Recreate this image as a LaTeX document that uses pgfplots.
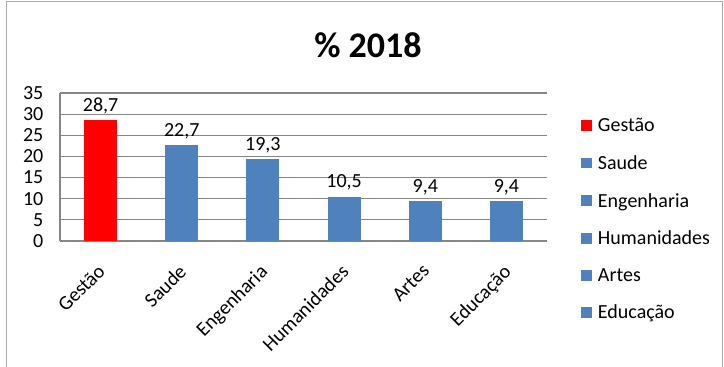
\documentclass[border=0pt]{standalone}
\usepackage{pgfplots}
\pgfplotsset{compat=1.18}
\usepackage{fontspec}
\setmainfont{Carlito}
\definecolor{xblue}{HTML}{4F81BD}
\definecolor{xred}{HTML}{FF0000}
\definecolor{xgrid}{HTML}{868686}
\begin{document}
\begin{tikzpicture}[x=0.75pt,y=0.75pt]
\clip (0,0) rectangle (724,367);
\useasboundingbox (0,0) rectangle (724,367);
\draw[color=xgrid!70] (6,-5) rectangle (722,366);
\node[font=\fontsize{27}{32}\selectfont\bfseries] at (368,322) {\% 2018};
\begin{axis}[
  at={(45pt,94.5pt)}, anchor=south west,
  scale only axis, width=365.25pt, height=111pt,
  ybar, /pgf/bar shift=0pt, bar width=24.75pt,
  xmin=-0.5, xmax=5.5, ymin=0, ymax=35,
  ytick={0,5,...,35},
  xtick={0,1,2,3,4,5},
  xticklabels={Gestão,Saude,Engenharia,Humanidades,Artes,Educação},
  xticklabel style={rotate=45, anchor=north east, inner sep=1pt, xshift=-12.8pt, yshift=-8.5pt},
  yticklabel style={xshift=-9pt},
  major tick length=0pt,
  ymajorgrids, grid style={color=xgrid, line width=0.8pt},
  axis line style={color=xgrid, line width=0.8pt},
  axis x line*=bottom, axis y line*=left,
  tick label style={font=\fontsize{15}{18}\selectfont},
  /pgf/number format/assume math mode=true,
  /pgf/number format/use comma,
  nodes near coords,
  nodes near coords style={font=\fontsize{15}{18}\selectfont, /pgf/number format/fixed, /pgf/number format/precision=1, /pgf/number format/fixed zerofill, /pgf/number format/use comma, yshift=1pt},
  legend style={draw=none, fill=none, at={(1.061,0.865)}, anchor=north west,
    font=\fontsize{15}{18}\selectfont, row sep=12.3pt, legend cell align=left,
    /tikz/every odd column/.append style={column sep=2.5pt}},
  legend image code/.code={\fill[#1] (0pt,-3.6pt) rectangle (8.25pt,4.4pt);},
  clip=false,
]
\addplot[fill=xred, draw=none] coordinates {(0,28.7)};
\addlegendentry{Gestão}
\addplot[fill=xblue, draw=none] coordinates {(1,22.7)};
\addlegendentry{Saude}
\addplot[fill=xblue, draw=none] coordinates {(2,19.3)};
\addlegendentry{Engenharia}
\addplot[fill=xblue, draw=none] coordinates {(3,10.5)};
\addlegendentry{Humanidades}
\addplot[fill=xblue, draw=none] coordinates {(4,9.4)};
\addlegendentry{Artes}
\addplot[fill=xblue, draw=none] coordinates {(5,9.4)};
\addlegendentry{Educação}
\end{axis}
\end{tikzpicture}
\end{document}
